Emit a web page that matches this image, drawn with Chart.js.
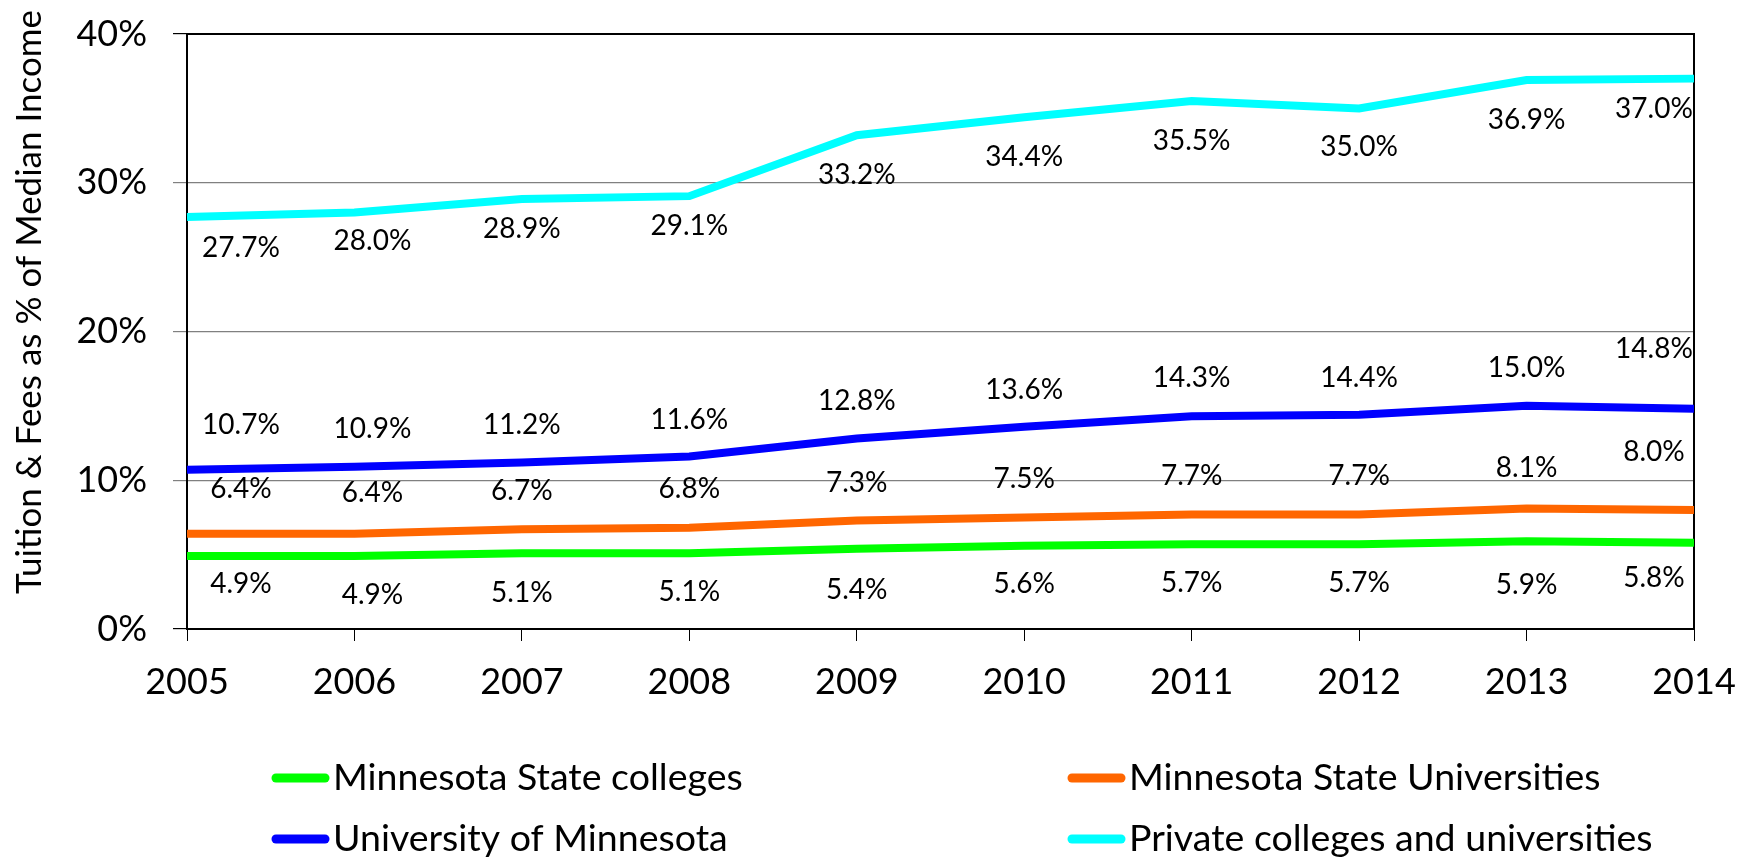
<!DOCTYPE html>
<html>
<head>
<meta charset="utf-8">
<script src="https://cdn.jsdelivr.net/npm/chart.js@4/dist/chart.umd.min.js"></script>
<style>
  html, body { margin: 0; padding: 0; background: #fff; }
  #wrap { width: 1752px; height: 858px; position: relative; }
</style>
</head>
<body>
<div id="wrap"><canvas id="myChart" width="1752" height="858"></canvas></div>
<script>
var years = ['2005', '2006', '2007', '2008', '2009', '2010', '2011', '2012', '2013', '2014']
var stateColleges = [4.9, 4.9, 5.1, 5.1, 5.4, 5.6, 5.7, 5.7, 5.9, 5.8]
var stateUniversities = [6.4, 6.4, 6.7, 6.8, 7.3, 7.5, 7.7, 7.7, 8.1, 8.0]
var univMinnesota = [10.7, 10.9, 11.2, 11.6, 12.8, 13.6, 14.3, 14.4, 15.0, 14.8]
var privateColleges = [27.7, 28.0, 28.9, 29.1, 33.2, 34.4, 35.5, 35.0, 36.9, 37.0]
var yTicks = [0, 10, 20, 30, 40]

// label nudges (px), excel had them hand placed
var labelDx = [54, 18, 0, 0, 0, 0, 0, 0, 0, -40]
var labelDy = [
  [28, 39, 40, 39, 41, 38, 39, 39, 44, 35],
  [-45, -41, -38, -39, -37, -38, -38, -38, -41, -58],
  [-45, -38, -37, -36, -38, -37, -38, -37, -38, -60],
  [31, 28, 30, 30, 40, 40, 40, 39, 40, 30],
]

const FONT = 'Lato, "Open Sans", sans-serif'

function makeSet(label, data, color) {
  return {
    label,
    data,
    borderColor: color,
    backgroundColor: color,
    borderWidth: 8,
    pointRadius: 0,
    tension: 0,
    fill: false,
  }
}

const extras = {
  id: 'extras',
  beforeDatasetsDraw(chart) {
    const { ctx, chartArea: a } = chart
    ctx.save()
    ctx.strokeStyle = '#000'
    ctx.lineWidth = 2
    ctx.strokeRect(a.left, a.top, a.right - a.left, a.bottom - a.top)
    ctx.restore()
  },
  afterDraw(chart) {
    const { ctx } = chart
    ctx.save()
    // value labels
    ctx.font = '28px ' + FONT
    ctx.fillStyle = '#000'
    ctx.textAlign = 'center'
    ctx.textBaseline = 'middle'
    chart.data.datasets.forEach((ds, i) => {
      const meta = chart.getDatasetMeta(i)
      meta.data.forEach((pt, j) => {
        ctx.fillText(ds.data[j].toFixed(1) + '%', pt.x + labelDx[j], pt.y + labelDy[i][j])
      })
    })

    // axis title
    ctx.save()
    ctx.translate(30, 302)
    ctx.rotate(-Math.PI / 2)
    ctx.font = '35px ' + FONT
    ctx.fillText('Tuition & Fees as % of Median Income', 0, 0)
    ctx.restore()

    // legend, two columns
    const cols = [276, 1072]
    const rows = [778, 839]
    ctx.font = '37.5px ' + FONT
    ctx.textAlign = 'left'
    chart.data.datasets.forEach((ds, i) => {
      const x = cols[i % 2]
      const y = rows[Math.floor(i / 2)]
      ctx.strokeStyle = ds.borderColor
      ctx.lineWidth = 9
      ctx.lineCap = 'round'
      ctx.beginPath()
      ctx.moveTo(x, y)
      ctx.lineTo(x + 49, y)
      ctx.stroke()
      ctx.fillText(ds.label, x + 57, y)
    })
    ctx.restore()
  },
}

const ctx = document.getElementById('myChart').getContext('2d')
const myChart = new Chart(ctx, {
  type: 'line',
  data: {
    labels: years,
    datasets: [
      makeSet('Minnesota State colleges', stateColleges, '#00ff00'),
      makeSet('Minnesota State Universities', stateUniversities, '#ff6600'),
      makeSet('University of Minnesota', univMinnesota, '#0000ff'),
      makeSet('Private colleges and universities', privateColleges, '#00ffff'),
    ],
  },
  options: {
    responsive: false,
    animation: false,
    layout: { padding: { top: 34, right: 58, left: 0, bottom: 0 } },
    plugins: {
      legend: { display: false },
      tooltip: { enabled: false },
    },
    scales: {
      x: {
        offset: false,
        afterFit: s => {
          s.height = 229
          s.paddingLeft = 0
          s.paddingRight = 0
        },
        grid: {
          drawOnChartArea: false,
          drawTicks: true,
          tickLength: 12,
          color: '#000',
        },
        border: { color: '#000', width: 2 },
        ticks: {
          font: { family: FONT, size: 36 },
          color: '#000',
          padding: 20,
          maxRotation: 0,
        },
      },
      y: {
        min: 0,
        max: 40,
        afterFit: s => {
          s.width = 187
          s.paddingTop = 0
          s.paddingBottom = 0
        },
        afterBuildTicks: s => { s.ticks = yTicks.map(v => ({ value: v })) },
        grid: {
          tickLength: 14,
          color: c => (c.tick && (c.tick.value === 0 || c.tick.value === 40) ? '#000' : '#808080'),
          lineWidth: 1.2,
        },
        border: { color: '#000', width: 2 },
        ticks: {
          font: { family: FONT, size: 36 },
          color: '#000',
          padding: 26,
          callback: v => v + '%',
        },
      },
    },
  },
  plugins: [extras],
})
</script>
</body>
</html>
